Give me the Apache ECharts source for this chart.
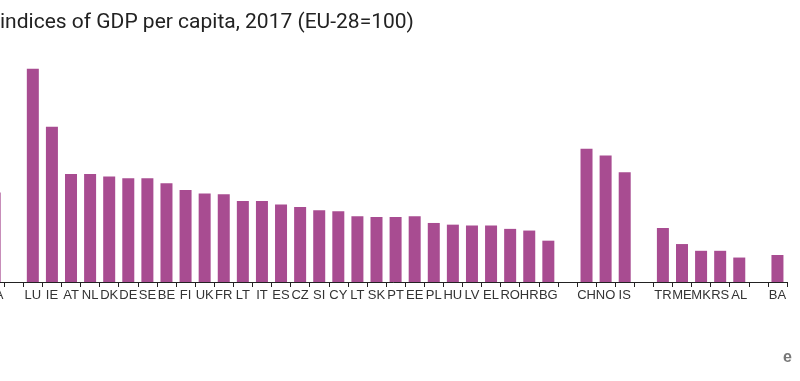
<!DOCTYPE html>
<html>
<head>
<meta charset="utf-8">
<script src="https://cdn.jsdelivr.net/npm/echarts@6/dist/echarts.min.js"></script>
<style>html,body{margin:0;padding:0;background:#fff}#c{width:800px;height:381px}</style>
</head>
<body>
<div id="c"></div>
<script>
var titleText = 'indices of GDP per capita, 2017 (EU-28=100)';
var categories = ['EU-28','EA','','LU','IE','AT','NL','DK','DE','SE','BE','FI','UK','FR','LT','IT','ES','CZ','SI','CY','LT','SK','PT','EE','PL','HU','LV','EL','RO','HR','BG','','CH','NO','IS','','TR','ME','MK','RS','AL','','BA'];
var values = [100,106,null,253,184,128,128,125,123,123,117,109,105,104,96,96,92,89,85,84,78,77,77,78,70,68,67,67,63,61,49,null,158,150,130,null,64,45,37,37,29,null,32];

var chart = echarts.init(document.getElementById('c'), null, {renderer:'canvas'});
chart.setOption({
  animation: false,
  backgroundColor: '#fff',
  title: {
    text: titleText, left: 0, top: 12, padding: 0,
    textStyle: {fontFamily: 'Roboto', fontSize: 21, fontWeight: 'normal', color: '#222'}
  },
  grid: {left: -34, right: 13, top: 29, bottom: 99, containLabel: false, outerBoundsMode: 'none'},
  xAxis: {
    type: 'category', data: categories,
    axisLine: {lineStyle: {color: '#222', width: 1}},
    axisTick: {show: true, interval: 0, length: 5, lineStyle: {color: '#222'}},
    axisLabel: {interval: 0, margin: 7, hideOverlap: false, fontFamily: 'Liberation Sans', fontSize: 13, color: '#333'}
  },
  yAxis: {type: 'value', min: 0, max: 300, show: false, splitLine: {show: false}},
  series: [{
    type: 'bar', data: values, barWidth: 12,
    itemStyle: {color: '#A84C91'}
  }],
  graphic: [{
    type: 'text', left: 783, top: 350,
    style: {text: 'e', font: 'bold 16px "Liberation Sans"', fill: '#777'}
  }]
});
</script>
</body>
</html>
